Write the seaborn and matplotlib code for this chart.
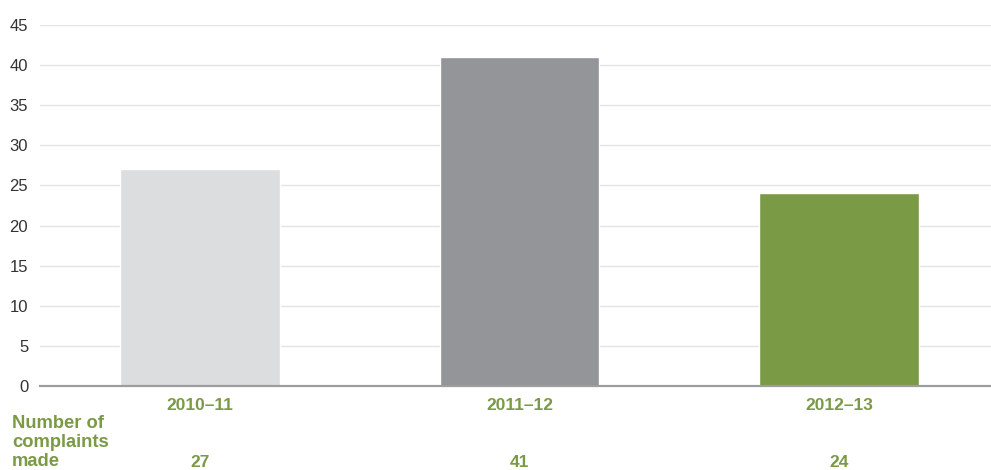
import matplotlib
matplotlib.use("Agg")
import matplotlib.pyplot as plt
import matplotlib.transforms as mtransforms
import seaborn as sns
import pandas as pd

years = ["2010\u201311", "2011\u201312", "2012\u201313"]
complaints = [27, 41, 24]
bar_colors = ["#DCDDDE", "#939598", "#7A9A46"]
y_ticks = [0, 5, 10, 15, 20, 25, 30, 35, 40, 45]
row_label_lines = ["Number of", "complaints", "made"]

green = "#7A9A46"

sns.set_theme(style="white")
plt.rcParams["font.family"] = ["Liberation Sans", "DejaVu Sans"]

df = pd.DataFrame({"year": years, "complaints": complaints})

W, H = 991, 470
fig = plt.figure(figsize=(W / 100, H / 100), dpi=100)
ax = fig.add_axes([40 / W, 1 - 386 / H, 951 / W, (386 - 25) / H])

sns.barplot(data=df, x="year", y="complaints", hue="year", palette=bar_colors,
            width=0.5, legend=False, ax=ax, saturation=1)

ax.set_ylim(0, 45)
ax.set_xlim(-0.5, 2.475)
ax.set_yticks(y_ticks)
ax.set_yticklabels([str(t) for t in y_ticks], fontsize=12, color="#333333")
ax.yaxis.grid(True, color="#E4E4E4", linewidth=1)
ax.set_axisbelow(True)
ax.tick_params(axis="y", length=0, pad=8.5)
ax.tick_params(axis="x", length=0)
ax.set_xticklabels([])
ax.set_xlabel("")
ax.set_ylabel("")
for side in ["top", "right", "left"]:
    ax.spines[side].set_visible(False)
ax.spines["bottom"].set_color("#9D9D9F")
ax.spines["bottom"].set_linewidth(1.6)

# Category labels and the count row beneath the axis
trans = mtransforms.blended_transform_factory(ax.transData, fig.transFigure)
for i, (yr, val) in enumerate(zip(years, complaints)):
    ax.text(i, 1 - 410 / H, yr, transform=trans, ha="center", va="baseline",
            fontsize=12.5, fontweight="bold", color=green)
    ax.text(i, 1 - 467 / H, str(val), transform=trans, ha="center", va="baseline",
            fontsize=12.5, fontweight="bold", color=green)

for k, line in enumerate(row_label_lines):
    fig.text(12 / W, 1 - (428 + 19 * k) / H, line, ha="left", va="baseline",
             fontsize=13.2, fontweight="bold", color=green)

fig.savefig("out.png", dpi=100)
